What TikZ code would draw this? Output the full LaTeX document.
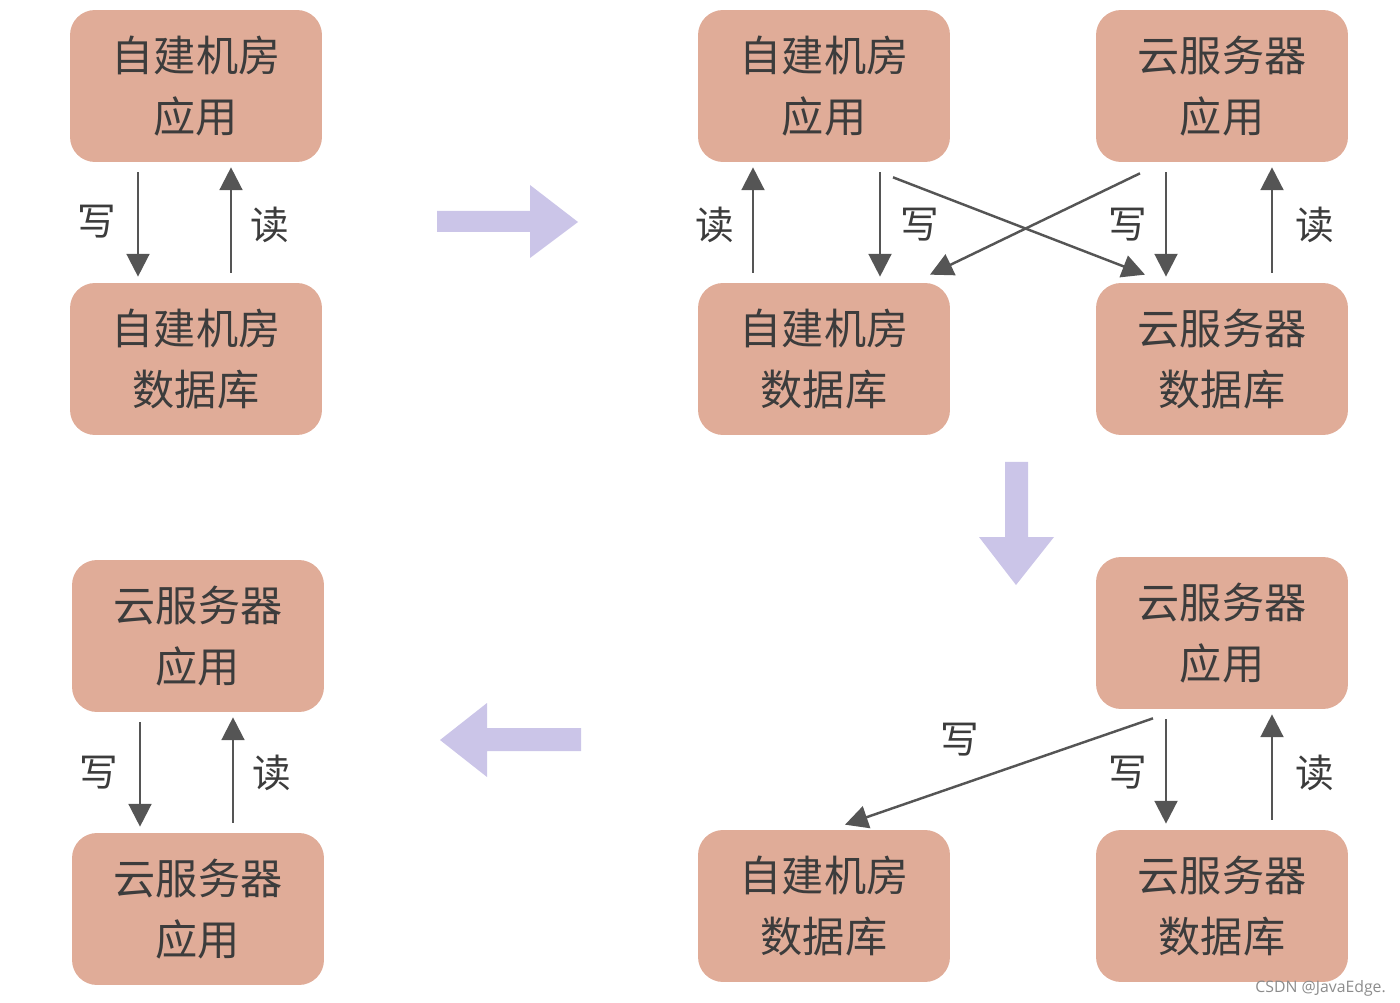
\documentclass[tikz,border=0pt]{standalone}
\usepackage{fontspec}
\usepackage{xcolor}
\usepackage{tikz}
\usetikzlibrary{calc,arrows.meta}
\newfontfamily\cjk{Noto Sans CJK SC}
\newfontfamily\marksans{Open Sans}
\definecolor{boxsalmon}{HTML}{E0AC98}
\definecolor{inkgray}{HTML}{555555}
\definecolor{textgray}{HTML}{3C3C3C}
\definecolor{flowlav}{HTML}{CBC5E8}

\begin{document}
\begin{tikzpicture}[x=0.02cm, y=-0.02cm, >={Triangle[length=13pt, width=13pt]},
    box/.style={fill=boxsalmon, draw=none, rounded corners=0.5cm,
                minimum width=5.04cm, minimum height=3.04cm, inner sep=0pt,
                align=center, text=textgray,
                font=\cjk\fontsize{24}{35}\selectfont},
    rw/.style={draw=inkgray, line width=1.4pt, ->},
    lbl/.style={text=textgray, font=\cjk\fontsize{22}{26}\selectfont, inner sep=0pt},
    bigarrow/.style={fill=flowlav, draw=none}]
  \useasboundingbox (0,0) rectangle (1400,1003);
  % stage 1: only self-built room
  \node[box] (a1) at (196,86) {自建机房\\应用};
  \node[box] (d1) at (196,359) {自建机房\\数据库};
  \draw[rw] ($(a1.south)+(-58,10)$) -- ($(d1.north)+(-58,-6)$);
  \draw[rw] ($(d1.north)+(35,-10)$) -- ($(a1.south)+(35,5)$);
  \node[lbl] (w1) at (97,222) {写};
  \node[lbl] (r1) at (270,225) {读};
  % stage 2: double write
  \node[box] (a2) at (824,86) {自建机房\\应用};
  \node[box] (a3) at (1222,86) {云服务器\\应用};
  \node[box] (d2) at (824,359) {自建机房\\数据库};
  \node[box] (d3) at (1222,359) {云服务器\\数据库};
  \draw[rw] ($(d2.north)+(-71,-10)$) -- ($(a2.south)+(-71,5)$);
  \draw[rw] ($(a2.south)+(56,10)$) -- ($(d2.north)+(56,-6)$);
  \draw[rw] ($(a2.south)+(69,15)$) -- ($(d3.north)+(-77,-8)$);
  \draw[rw] ($(a3.south)+(-82,11)$) -- ($(d2.north)+(106,-8)$);
  \draw[rw] ($(a3.south)+(-56,10)$) -- ($(d3.north)+(-56,-6)$);
  \draw[rw] ($(d3.north)+(50,-10)$) -- ($(a3.south)+(50,5)$);
  \node[lbl] (r2) at (715,225) {读};
  \node[lbl] (w2) at (920,225) {写};
  \node[lbl] (w3) at (1128,225) {写};
  \node[lbl] (r3) at (1315,225) {读};
  % stage 3: cloud app, writes to both
  \node[box] (a4) at (1222,633) {云服务器\\应用};
  \node[box] (d4) at (824,906) {自建机房\\数据库};
  \node[box] (d5) at (1222,906) {云服务器\\数据库};
  \draw[rw] ($(a4.south)+(-69,9)$) -- ($(d4.north)+(21,-5)$);
  \draw[rw] ($(a4.south)+(-56,10)$) -- ($(d5.north)+(-56,-6)$);
  \draw[rw] ($(d5.north)+(50,-10)$) -- ($(a4.south)+(50,5)$);
  \node[lbl] (w4) at (960,740) {写};
  \node[lbl] (w5) at (1128,773) {写};
  \node[lbl] (r4) at (1315,773) {读};
  % stage 4: only cloud
  \node[box] (a5) at (198,636) {云服务器\\应用};
  \node[box] (a6) at (198,909) {云服务器\\应用};
  \draw[rw] ($(a5.south)+(-58,10)$) -- ($(a6.north)+(-58,-6)$);
  \draw[rw] ($(a6.north)+(35,-10)$) -- ($(a5.south)+(35,5)$);
  \node[lbl] (w6) at (99,773) {写};
  \node[lbl] (r5) at (272,773) {读};
  % big transition arrows
  \fill[bigarrow] (437,211) -- (530,211) -- (530,185) -- (578,222)
                  -- (530,258) -- (530,232) -- (437,232) -- cycle;
  \fill[bigarrow] (1005,462) -- (1028,462) -- (1028,537) -- (1054,537)
                  -- (1016,585) -- (979,537) -- (1005,537) -- cycle;
  \fill[bigarrow] (581,728) -- (487,728) -- (487,703) -- (440,740)
                  -- (487,777) -- (487,751) -- (581,751) -- cycle;
  \node[text=black!45, font=\marksans\fontsize{9}{10}\selectfont, anchor=east]
      (mark) at (1392,988) {CSDN @JavaEdge.};
\end{tikzpicture}
\end{document}
